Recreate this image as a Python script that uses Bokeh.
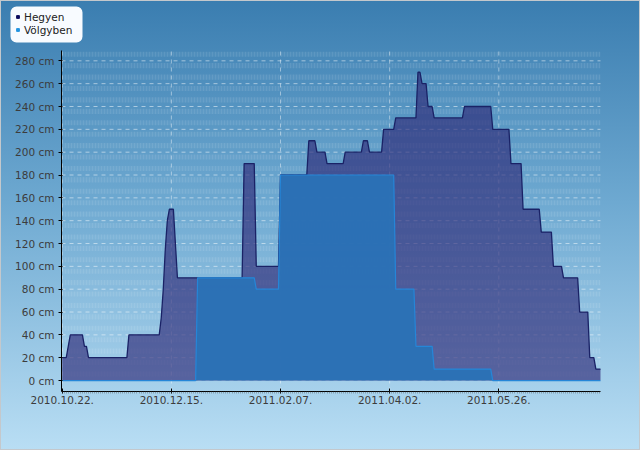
import numpy as np
import pandas as pd
from bokeh.plotting import figure
from bokeh.models import (ColumnDataSource, Range1d, FixedTicker, DatetimeTickFormatter,
                          PrintfTickFormatter, Legend, LegendItem, BoxAnnotation)
from bokeh.embed import file_html
from bokeh.resources import INLINE

# ---- data (snow depth, cm) ----
hegyen_dates = ["2010-10-22", "2010-10-24", "2010-10-26", "2010-11-01", "2010-11-02", "2010-11-03",
                "2010-11-04", "2010-11-23", "2010-11-24", "2010-12-09", "2010-12-10", "2010-12-11",
                "2010-12-12", "2010-12-13", "2010-12-14", "2010-12-16", "2010-12-18", "2011-01-19",
                "2011-01-20", "2011-01-25", "2011-01-26", "2011-02-06", "2011-02-07", "2011-02-20",
                "2011-02-21", "2011-02-24", "2011-02-25", "2011-03-01", "2011-03-02", "2011-03-10",
                "2011-03-11", "2011-03-19", "2011-03-20", "2011-03-22", "2011-03-23", "2011-03-29",
                "2011-03-30", "2011-04-04", "2011-04-05", "2011-04-15", "2011-04-16", "2011-04-17",
                "2011-04-18", "2011-04-20", "2011-04-21", "2011-04-23", "2011-04-24", "2011-05-08",
                "2011-05-09", "2011-05-22", "2011-05-23", "2011-05-31", "2011-06-01", "2011-06-06",
                "2011-06-07", "2011-06-15", "2011-06-16", "2011-06-21", "2011-06-22", "2011-06-26",
                "2011-06-27", "2011-07-04", "2011-07-05", "2011-07-09", "2011-07-10", "2011-07-12",
                "2011-07-13", "2011-07-15T07:00"]
hegyen_cm = [20, 20, 40, 40, 30, 30,
             20, 20, 40, 40, 55, 80,
             115, 140, 150, 150, 90, 90,
             190, 190, 100, 100, 180, 180,
             210, 210, 200, 200, 190, 190,
             200, 200, 210, 210, 200, 200,
             220, 220, 230, 230, 270, 270,
             260, 260, 240, 240, 230, 230,
             240, 240, 220, 220, 190, 190,
             150, 150, 130, 130, 100, 100,
             90, 90, 60, 60, 20, 20,
             10, 10]

volgyben_dates = ["2010-10-22", "2010-12-27", "2010-12-28", "2011-01-25", "2011-01-26", "2011-02-06",
                  "2011-02-07", "2011-04-04", "2011-04-05", "2011-04-14", "2011-04-15", "2011-04-23",
                  "2011-04-24", "2011-05-22", "2011-05-23", "2011-07-15T07:00"]
volgyben_cm = [0, 0, 90, 90, 80, 80,
               180, 180, 80, 80, 30, 30,
               10, 10, 0, 0]

x_tick_dates = ["2010-10-22", "2010-12-15", "2011-02-07", "2011-04-02", "2011-05-26"]
y_ticks = list(range(0, 281, 20))
series_names = ["Hegyen", "Völgyben"]


def to_ms(s):
    return pd.Timestamp(s).value / 1e6


h_src = ColumnDataSource(dict(x=pd.to_datetime(hegyen_dates, format="ISO8601"), y=hegyen_cm))
v_src = ColumnDataSource(dict(x=pd.to_datetime(volgyben_dates, format="ISO8601"), y=volgyben_cm))

# plot-area extent (data) and its placement on the 640x450 canvas
x_lo, x_hi = to_ms("2010-10-21T15:36"), to_ms("2011-07-15T07:12")
y_lo, y_hi = -9.6, 289.05
W, H = 640, 450
PL, PR, PT, PB = 61, 600, 50, 391
mpp = (x_hi - x_lo) / (PR - PL)
cpp = (y_hi - y_lo) / (PB - PT)

p = figure(width=W, height=H, x_axis_type="datetime", output_backend="svg",
           toolbar_location=None,
           x_range=Range1d(x_lo - PL * mpp, x_hi + (W - PR) * mpp),
           y_range=Range1d(y_lo - (H - PB) * cpp, y_hi + PT * cpp),
           min_border=0, min_border_left=0, min_border_right=0,
           min_border_top=0, min_border_bottom=0)

p.background_fill_alpha = 0
p.border_fill_alpha = 0
p.outline_line_color = None
p.styles = {"background": "linear-gradient(to bottom, #3a7db0 0%, #6ea9d1 45%, #b9def4 100%)",
            "outline": "1px solid #c4c8cc", "outline-offset": "-1px"}
p.xgrid.visible = False
p.ygrid.visible = False

# stripes in plot area
for k in range(0, 29):
    p.add_layout(BoxAnnotation(left=x_lo, right=x_hi, bottom=10 * k + 3.5, top=10 * k + 8,
                               fill_color="white", fill_alpha=0.05,
                               hatch_pattern="vertical_line", hatch_color="white",
                               hatch_alpha=0.07, hatch_scale=3, hatch_weight=1,
                               line_color=None, level="underlay"))

# grid lines limited to the plot area
x_tick_ms = [to_ms(d) for d in x_tick_dates]
p.segment(x0=[x_lo] * len(y_ticks), x1=[x_hi] * len(y_ticks), y0=y_ticks, y1=y_ticks,
          line_color="white", line_alpha=0.5, line_dash="4 4", line_width=1)
p.segment(x0=x_tick_ms, x1=x_tick_ms, y0=[y_lo] * len(x_tick_ms), y1=[y_hi] * len(x_tick_ms),
          line_color="white", line_alpha=0.45, line_dash="4 4", line_width=1)

# series
p.varea(x="x", y1=0, y2="y", source=h_src, fill_color="#2c2876", fill_alpha=0.65)
p.line(x="x", y="y", source=h_src, line_color="#1a2266", line_width=1.3)
p.varea(x="x", y1=0, y2="y", source=v_src, fill_color="#2a72b6", fill_alpha=0.95)
p.line(x="x", y="y", source=v_src, line_color="#2586d8", line_width=1.2)

# legend box (rounded white panel, screen units from bottom-left of canvas)
p.add_layout(BoxAnnotation(left=10, right=82, top=H - 6, bottom=H - 42,
                           left_units="screen", right_units="screen",
                           top_units="screen", bottom_units="screen",
                           fill_color="#f8fbff", fill_alpha=1.0, line_color=None,
                           border_radius=6))

# legend glyphs
lg_h = p.scatter(x=[np.nan], y=[np.nan], marker="square", size=6, fill_color="#0b0b5c",
                 line_color="#0b0b5c")
lg_v = p.scatter(x=[np.nan], y=[np.nan], marker="square", size=6, fill_color="#2394e0",
                 line_color="#2394e0")
legend = Legend(items=[LegendItem(label=series_names[0], renderers=[lg_h]),
                       LegendItem(label=series_names[1], renderers=[lg_v])],
                location=(14, H - 36), padding=0, margin=0, spacing=0,
                glyph_width=7, glyph_height=13, label_height=13, label_standoff=3,
                label_text_font="DejaVu Sans", label_text_font_size="10.5px",
                label_text_color="#222222", background_fill_alpha=0,
                border_line_color=None)
p.add_layout(legend, "center")

# axes (drawn at the plot-area edges)
xa = p.xaxis[0]
xa.fixed_location = y_lo
xa.bounds = (x_lo, x_hi)
day_ms = 86400000
minor = list(np.arange(to_ms("2010-10-22"), x_hi, day_ms))
xa.ticker = FixedTicker(ticks=x_tick_ms, minor_ticks=minor)
xa.formatter = DatetimeTickFormatter(days="%Y.%m.%d.", months="%Y.%m.%d.", years="%Y.%m.%d.")
xa.axis_line_color = "black"
xa.major_tick_line_color = "black"
xa.major_tick_in = 3
xa.major_tick_out = 2
xa.minor_tick_in = 0
xa.minor_tick_out = 2
xa.minor_tick_line_color = "#444444"
xa.minor_tick_line_alpha = 0.35
xa.major_label_text_font = "DejaVu Sans"
xa.major_label_text_font_size = "10.5px"
xa.major_label_text_color = "#3c3c3c"
xa.major_label_standoff = 2

ya = p.yaxis[0]
ya.fixed_location = x_lo
ya.bounds = (y_lo, y_hi)
ya.ticker = FixedTicker(ticks=y_ticks)
ya.formatter = PrintfTickFormatter(format="%d cm")
ya.axis_line_color = "black"
ya.major_tick_line_color = "black"
ya.major_tick_in = 1
ya.major_tick_out = 3
ya.minor_tick_line_color = None
ya.major_label_text_font = "DejaVu Sans"
ya.major_label_text_font_size = "10.5px"
ya.major_label_text_color = "#3c3c3c"
ya.major_label_standoff = 4

open("out.html", "w").write(file_html(p, INLINE))
